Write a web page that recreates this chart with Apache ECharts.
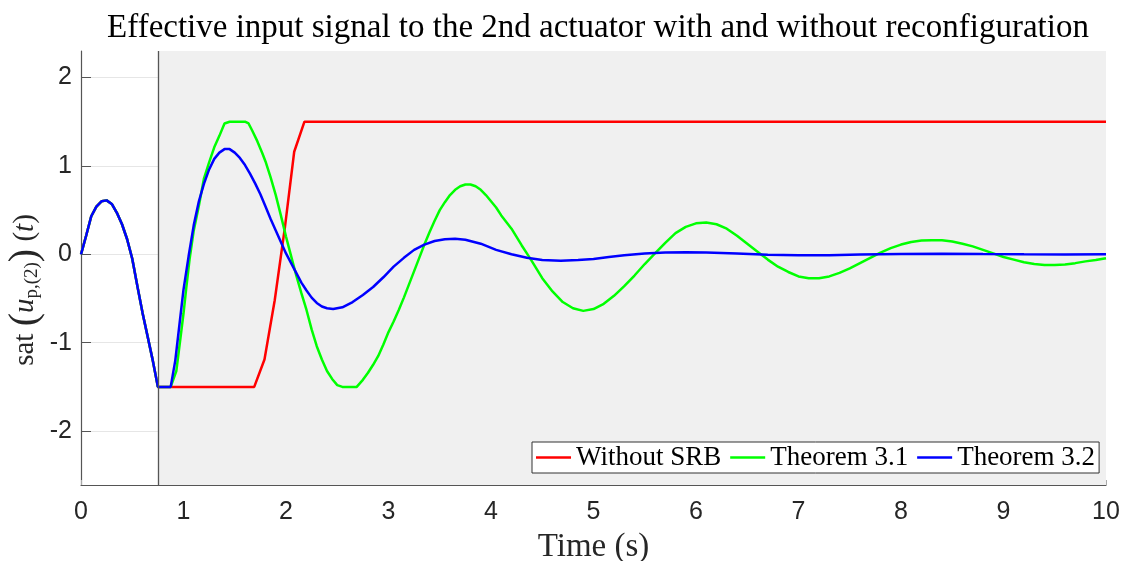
<!DOCTYPE html>
<html>
<head>
<meta charset="utf-8">
<script src="https://cdn.jsdelivr.net/npm/echarts@6/dist/echarts.min.js"></script>
<style>
  html, body { margin: 0; padding: 0; background: #fff; }
  #chart { width: 1126px; height: 561px; }
</style>
</head>
<body>
<div id="chart"></div>
<script>
// Common response before reconfiguration (all three controllers coincide)
const preTime  = [0, 0.05, 0.1, 0.15, 0.2, 0.25, 0.3, 0.35, 0.4, 0.45, 0.5, 0.55, 0.6, 0.65, 0.7, 0.75, 0.875];
const preValue = [0, 0.21, 0.43, 0.54, 0.60, 0.61, 0.57, 0.47, 0.34, 0.17, -0.05, -0.36, -0.66, -0.93, -1.2, -1.5, -1.5];

// Without SRB
const srbTime  = [1.69, 1.79, 1.89, 1.99, 2.08, 2.18, 10];
const srbValue = [-1.5, -1.19, -0.52, 0.31, 1.16, 1.5, 1.5];

// Theorem 3.1
const thm31Time = [0.93, 0.97, 1.0, 1.03, 1.06, 1.1, 1.15, 1.2, 1.25, 1.3, 1.35, 1.4, 1.45, 1.5, 1.55, 1.6, 1.635,
  1.67, 1.72, 1.77, 1.8, 1.85, 1.9, 1.95, 2.0, 2.05, 2.1, 2.15, 2.2, 2.25, 2.3, 2.35, 2.4, 2.45, 2.5, 2.55, 2.6, 2.65,
  2.69, 2.75, 2.8, 2.85, 2.9, 2.95, 3.0, 3.05, 3.1, 3.15, 3.2, 3.25, 3.3, 3.35, 3.4, 3.45, 3.5, 3.55, 3.6, 3.65, 3.7,
  3.75, 3.8, 3.85, 3.9, 3.95, 4.0, 4.05, 4.1, 4.2, 4.3, 4.35, 4.4, 4.5, 4.6, 4.7, 4.8, 4.9, 5.0, 5.1, 5.2, 5.3, 5.4,
  5.5, 5.6, 5.7, 5.8, 5.9, 6.0, 6.1, 6.2, 6.3, 6.4, 6.5, 6.6, 6.7, 6.8, 6.9, 7.0, 7.1, 7.2, 7.3, 7.4, 7.5, 7.6, 7.7,
  7.8, 7.9, 8.0, 8.1, 8.2, 8.3, 8.4, 8.5, 8.6, 8.7, 8.8, 8.9, 9.0, 9.1, 9.2, 9.3, 9.4, 9.5, 9.6, 9.7, 9.8, 9.9, 10.0];
const thm31Value = [-1.32, -0.95, -0.67, -0.35, -0.05, 0.27, 0.55, 0.86, 1.04, 1.21, 1.34, 1.48, 1.5, 1.5, 1.5, 1.5, 1.48,
  1.40, 1.28, 1.14, 1.05, 0.87, 0.67, 0.44, 0.20, -0.02, -0.24, -0.44, -0.63, -0.85, -1.04, -1.19, -1.32, -1.41, -1.48, -1.5, -1.5, -1.5,
  -1.5, -1.42, -1.34, -1.25, -1.15, -1.02, -0.88, -0.76, -0.63, -0.49, -0.34, -0.19, -0.04, 0.11, 0.25, 0.38, 0.50, 0.59, 0.67, 0.73, 0.77,
  0.79, 0.79, 0.77, 0.73, 0.67, 0.60, 0.53, 0.44, 0.29, 0.10, 0.01, -0.08, -0.27, -0.42, -0.54, -0.61, -0.64, -0.62, -0.56, -0.47, -0.36, -0.24,
  -0.11, 0.01, 0.13, 0.24, 0.31, 0.35, 0.36, 0.34, 0.29, 0.21, 0.12, 0.03, -0.06, -0.14, -0.20, -0.25, -0.27, -0.27, -0.25, -0.21, -0.16, -0.10, -0.04,
  0.02, 0.07, 0.11, 0.14, 0.155, 0.16, 0.16, 0.145, 0.12, 0.09, 0.05, 0.01, -0.03, -0.06, -0.09, -0.11, -0.12, -0.12, -0.115, -0.10, -0.08, -0.065, -0.045];

// Theorem 3.2
const thm32Time = [0.92, 0.96, 1.0, 1.05, 1.1, 1.15, 1.2, 1.25, 1.3, 1.35, 1.4, 1.45, 1.5, 1.55, 1.6, 1.65, 1.7, 1.75,
  1.8, 1.85, 1.9, 1.95, 2.0, 2.05, 2.1, 2.15, 2.2, 2.25, 2.3, 2.35, 2.4, 2.46, 2.55, 2.65, 2.75, 2.85, 2.95, 3.05,
  3.15, 3.25, 3.35, 3.45, 3.55, 3.65, 3.75, 3.9, 4.05, 4.2, 4.35, 4.5, 4.68, 4.85, 5.0, 5.15, 5.3, 5.5, 5.7, 5.9,
  6.1, 6.4, 6.7, 7.0, 7.3, 7.6, 8.0, 8.4, 8.8, 9.2, 9.6, 10];
const thm32Value = [-1.2, -0.8, -0.40, -0.02, 0.33, 0.60, 0.80, 0.96, 1.08, 1.15, 1.19, 1.19, 1.15, 1.09, 1.01, 0.91, 0.80, 0.68,
  0.54, 0.40, 0.27, 0.14, 0.01, -0.10, -0.21, -0.32, -0.41, -0.49, -0.55, -0.59, -0.61, -0.62, -0.60, -0.54, -0.46, -0.37, -0.26, -0.14,
  -0.04, 0.05, 0.11, 0.15, 0.17, 0.175, 0.165, 0.12, 0.05, 0.0, -0.04, -0.065, -0.072, -0.065, -0.053, -0.03, -0.01, 0.01, 0.02, 0.022,
  0.02, 0.01, -0.005, -0.01, -0.01, -0.003, 0.003, 0.005, 0.002, 0.0, -0.001, 0];

// Time at which the reconfiguration starts (shaded region)
const reconfigTime = 0.75;

const xTicks = [0, 1, 2, 3, 4, 5, 6, 7, 8, 9, 10];
const yTicks = [-2, -1, 0, 1, 2];

const seriesNames = ['Without SRB', 'Theorem 3.1', 'Theorem 3.2'];
const seriesColors = ['#ff0000', '#00ff00', '#0000ff'];

function pairs(times, values) {
  return preTime.map((t, i) => [t, preValue[i]])
    .concat(times.map((t, i) => [t, values[i]]));
}

const serif = 'Liberation Serif';
const sans = 'Liberation Sans';

const chart = echarts.init(document.getElementById('chart'), null, { renderer: 'canvas' });

const lineSeries = [
  [srbTime, srbValue],
  [thm31Time, thm31Value],
  [thm32Time, thm32Value]
].map(([t, v], k) => ({
  name: seriesNames[k],
  type: 'line',
  data: pairs(t, v),
  symbol: 'none',
  z: 3,
  lineStyle: { color: seriesColors[k], width: 2.5 },
  itemStyle: { color: seriesColors[k] },
  animation: false
}));

chart.setOption({
  animation: false,
  backgroundColor: '#ffffff',
  title: {
    text: 'Effective input signal to the 2nd actuator with and without reconfiguration',
    left: 593,
    textAlign: 'center',
    top: 7,
    textStyle: { fontFamily: serif, fontWeight: 'normal', fontSize: 33, color: '#000' }
  },
  legend: {
    data: seriesNames,
    left: 532,
    top: 442,
    orient: 'horizontal',
    icon: 'rect',
    itemWidth: 35,
    itemHeight: 2.5,
    itemGap: 9,
    padding: [2, 4, 2, 4],
    backgroundColor: '#ffffff',
    borderColor: '#333333',
    borderWidth: 1,
    borderRadius: 0,
    textStyle: { fontFamily: serif, fontSize: 27, color: '#000' }
  },
  grid: { left: 81, right: 20, top: 51, bottom: 76, outerBoundsMode: 'none' },
  xAxis: {
    type: 'value',
    min: 0,
    max: 10,
    interval: 1,
    name: 'Time (s)',
    nameLocation: 'middle',
    nameGap: 46,
    nameMoveOverlap: false,
    nameTextStyle: { fontFamily: serif, fontSize: 33, color: '#262626' },
    axisLine: { show: true, onZero: false, lineStyle: { color: '#555', width: 1.2 } },
    axisTick: { show: true, inside: true, length: 5, lineStyle: { color: '#aaa' } },
    axisLabel: {
      fontFamily: sans, fontSize: 25, color: '#262626', margin: 15,
      formatter: v => (xTicks.includes(v) ? String(v) : '')
    },
    splitLine: { show: false }
  },
  yAxis: {
    type: 'value',
    min: -2.61,
    max: 2.3,
    name: '{up|sat }{par|(}{it|u}{sub|p,(2)}{par|)}{up| (}{it|t}{up|)}{sp|}',
    nameLocation: 'middle',
    nameRotate: 90,
    nameGap: 36,
    nameMoveOverlap: false,
    nameTextStyle: {
      color: '#262626',
      rich: {
        up: { fontFamily: serif, fontSize: 29, color: '#262626' },
        par: { fontFamily: serif, fontSize: 40, color: '#262626' },
        it: { fontFamily: serif, fontStyle: 'italic', fontSize: 29, color: '#262626' },
        sub: { fontFamily: serif, fontSize: 19, color: '#262626', padding: [15, 0, 0, 0] },
        sp: { width: 44 }
      }
    },
    axisLine: { show: true, onZero: false, lineStyle: { color: '#555', width: 1.2 } },
    axisTick: { show: true, inside: true, length: 10, customValues: yTicks, lineStyle: { color: '#555' } },
    axisLabel: { fontFamily: sans, fontSize: 25, color: '#262626', margin: 9, customValues: yTicks },
    splitLine: { show: true, lineStyle: { color: '#e6e6e6', width: 1 } }
  },
  series: [
    {
      name: 'reconfiguration',
      type: 'line',
      data: [],
      z: 1,
      silent: true,
      markArea: {
        silent: true,
        itemStyle: { color: '#f0f0f0' },
        data: [[{ xAxis: reconfigTime }, { xAxis: 10 }]]
      },
      markLine: {
        silent: true,
        symbol: 'none',
        label: { show: false },
        lineStyle: { color: '#555', width: 1.3, type: 'solid' },
        data: [{ xAxis: reconfigTime }]
      }
    }
  ].concat(lineSeries)
});
</script>
</body>
</html>
